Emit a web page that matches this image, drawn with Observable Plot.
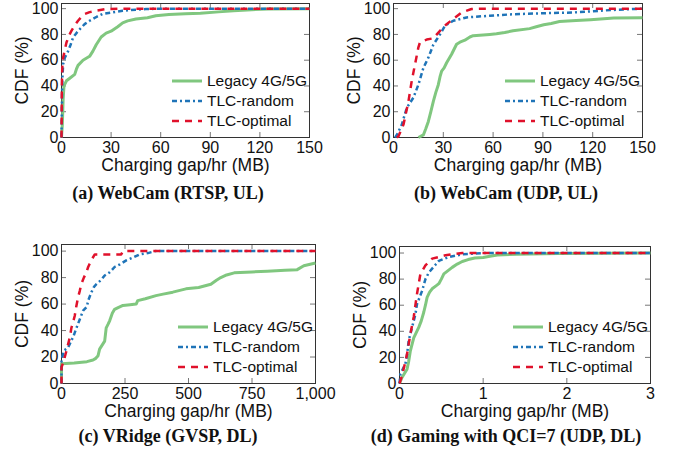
<!DOCTYPE html>
<html><head><meta charset="utf-8">
<script src="https://cdn.jsdelivr.net/npm/d3@7"></script>
<script src="https://cdn.jsdelivr.net/npm/@observablehq/plot@0.6"></script>
<style>
body{margin:0;background:#fff;}
#root{position:relative;width:676px;height:456px;overflow:hidden;font-family:"Liberation Sans",Arial,sans-serif;color:#111;}
.panel{position:absolute;}
.cap{position:absolute;font-family:"Liberation Serif","Times New Roman",serif;font-weight:bold;font-size:18px;line-height:20px;white-space:nowrap;transform:translateX(-50%);color:#111;}
.legtxt{position:absolute;font-size:15.5px;line-height:18px;white-space:nowrap;color:#111;}
.legline{position:absolute;}
</style></head>
<body><div id="root"></div>
<script>
// ---------- data ----------
const seriesNames = ["Legacy 4G/5G", "TLC-random", "TLC-optimal"];
const seriesColors = ["#80c77f", "#1f74b8", "#e0112b"];
const captions = ["(a) WebCam (RTSP, UL)", "(b) WebCam (UDP, UL)", "(c) VRidge (GVSP, DL)", "(d) Gaming with QCI=7 (UDP, DL)"];
const xLabel = "Charging gap/hr (MB)";
const yLabel = "CDF (%)";
const yTicks = [0, 20, 40, 60, 80, 100];
const xTicksA = [0, 30, 60, 90, 120, 150];
const xTicksB = [0, 30, 60, 90, 120, 150];
const xTicksC = [0, 250, 500, 750, 1000];
const xTicksD = [0, 1, 2, 3];

// (a) WebCam RTSP UL
const aLegacy = [[0,0],[0.5,10],[1,30],[1.5,40],[3,44],[5,46],[8,49],[9,53],[10,56],[13,60],[17,63],[19,67],[21,72],[24,78],[27,81],[30,82.5],[34,86],[37,89],[40,90.5],[45,92],[52,93],[57,94.5],[65,95.5],[75,96],[84,96.5],[95,97.5],[104,98.4],[115,99.2],[125,99.7],[150,100]];
const aRandom = [[0,0],[0.3,30],[0.5,45],[1,57],[2,62],[4,67],[5.5,72],[7,77.6],[9,81],[11,84],[14,88],[17,90.6],[21,93.5],[25,96],[30,97],[37,98.4],[45,99.2],[51,99.7],[60,100],[150,100]];
const aOptimal = [[0,0],[0.2,40],[0.5,55],[1,62],[2,68],[3,73.7],[4.5,79],[6,82.8],[8,87],[10,90.6],[12,93.5],[14,95.8],[17,97.3],[21,98.4],[27,99.7],[35,100],[150,100]];

// (b) WebCam UDP UL
const bLegacy = [[15,0],[18,2],[19.5,7],[21,12.5],[22.5,20],[24,28],[25.5,35],[27,41],[28,47],[29,51.5],[30.5,54],[32,58],[35,64.6],[38,72.4],[40,74],[43,75.5],[46,78],[48,79],[58,80],[62,80.5],[67,81.5],[72,82.8],[82,84.5],[86,86],[90.5,87.5],[95,88.5],[100,90],[110,90.8],[118.7,91.4],[132.7,92.7],[150,93]];
const bRandom = [[1,0],[2,2],[5,10],[8,23],[10,27],[12,31],[15,41],[18,54],[21,62],[24,72],[28,80],[31,86.7],[36,90.6],[44,93.2],[58,94.5],[70,95.5],[80,96],[95,96.6],[108,97],[120,98],[132,99],[150,100]];
const bOptimal = [[2,0],[3,1],[6,10],[9,28],[11,44],[13,57],[15,70],[16,74],[20,76],[24,77],[28,82.8],[32,88],[36,92],[41,97],[47,99.7],[55,100],[150,100]];

// (c) VRidge GVSP DL
const cLegacy = [[0,0],[0,15],[50,15.5],[100,16.5],[124,17.7],[135,19],[144,21],[150,26],[160,29],[170,32],[176,42],[184,45],[190,47.5],[200,53],[209,56],[225,57.5],[242,59],[270,59.5],[294,60],[300,62.6],[330,64],[372,66.4],[400,67.5],[438,69],[490,71.5],[540,72.5],[588,75],[610,78],[627,80],[650,82],[680,83.6],[750,84.3],[810,84.8],[880,85.5],[928,86],[954,89],[1000,91]];
const cRandom = [[0,0],[0,18],[10,25],[26,27],[40,33],[46,35],[55,40],[65,45],[75,50],[85,55],[100,58],[105,62.6],[118,69],[128,73],[137,75],[155,78],[170,81.6],[190,84],[209,88],[230,90],[255,93],[280,95],[307,97.5],[340,98.5],[370,100],[1000,100]];
const cOptimal = [[0,0],[0,12],[10,18],[20,25],[33,35],[39,42],[45,46],[52,51],[58,58],[65,65],[72,70],[78,75],[88,80],[98,84],[105,88],[111,90.5],[120,94],[131,97.5],[235,97.5],[242,100],[1000,100]];

// (d) Gaming QCI=7 UDP DL
const dLegacy = [[0,0],[0.03,4.6],[0.09,11],[0.11,17],[0.13,25],[0.17,35],[0.2,39],[0.23,43],[0.26,48],[0.29,54.6],[0.31,60],[0.33,66],[0.36,70],[0.39,72.6],[0.44,75],[0.47,76.5],[0.5,80],[0.53,84],[0.58,86.5],[0.63,89],[0.69,91.5],[0.75,93.5],[0.82,95],[0.9,96.2],[1.0,96.5],[1.08,97.5],[1.17,98.5],[1.4,99],[1.9,99.6],[3,100]];
const dRandom = [[0,0],[0.01,7],[0.07,15],[0.09,22],[0.11,33],[0.15,43],[0.19,53],[0.21,61],[0.24,66],[0.27,71],[0.31,80],[0.35,85],[0.39,88],[0.43,91],[0.47,94],[0.53,95.5],[0.59,97],[0.75,99],[1.0,100],[3,100]];
const dOptimal = [[0,0],[0.03,6],[0.06,14],[0.09,22.5],[0.13,38],[0.17,51],[0.21,69],[0.25,84],[0.31,90.5],[0.39,95.7],[0.55,98.3],[0.75,100],[3,100]];

// ---------- drawing ----------
const dashes = [null, "5,3,2,3", "7,6"];
const widths = [3, 2.5, 2.5];
const root = document.getElementById("root");

const panels = [
  {series:[aLegacy,aRandom,aOptimal], xDomain:[0,150], xTicks:xTicksA, yMax:104, left:0, top:0, width:338, height:180, ml:61, mr:29, mt:3, mb:43, fmt:d3.format("d"), cap:[168,183]},
  {series:[bLegacy,bRandom,bOptimal], xDomain:[0,150], xTicks:xTicksB, yMax:104, left:338, top:0, width:338, height:180, ml:55, mr:34, mt:3, mb:43, fmt:d3.format("d"), cap:[506,183]},
  {series:[cLegacy,cRandom,cOptimal], xDomain:[0,1000], xTicks:xTicksC, yMax:105, left:0, top:230, width:338, height:195, ml:61, mr:23, mt:14, mb:42, fmt:d3.format(","), cap:[168,426]},
  {series:[dLegacy,dRandom,dOptimal], xDomain:[0,3], xTicks:xTicksD, yMax:105, left:338, top:230, width:338, height:195, ml:61, mr:26, mt:16, mb:42, fmt:d3.format("d"), cap:[506,426]}
];

panels.forEach((p, pi) => {
  const fw = p.width - p.ml - p.mr;
  const fh = p.height - p.mt - p.mb;
  const tx = 5 * (p.xDomain[1] - p.xDomain[0]) / fw;
  const ty = 5 * p.yMax / fh;
  const x0 = p.xDomain[0], x1 = p.xDomain[1];
  const lineMarks = p.series.map((s, i) => Plot.line(s, {
    x: d => d[0], y: d => d[1], stroke: seriesColors[i], strokeWidth: widths[i],
    strokeDasharray: dashes[i] || undefined, strokeLinejoin: "round", strokeLinecap: "butt"
  }));
  const chart = Plot.plot({
    width: p.width, height: p.height,
    marginLeft: p.ml, marginRight: p.mr, marginTop: p.mt, marginBottom: p.mb,
    x: {domain: p.xDomain},
    y: {domain: [0, p.yMax]},
    style: {fontFamily: '"Liberation Sans", Arial, sans-serif', color: "#111", background: "transparent", overflow: "visible"},
    marks: [
      Plot.ruleX(p.xTicks, {x: d => d, y1: 0, y2: ty, stroke: "#777"}),
      Plot.ruleX(p.xTicks, {x: d => d, y1: p.yMax - ty, y2: p.yMax, stroke: "#777"}),
      Plot.ruleY(yTicks, {y: d => d, x1: x0, x2: x0 + tx, stroke: "#777"}),
      Plot.ruleY(yTicks, {y: d => d, x1: x1 - tx, x2: x1, stroke: "#777"}),
      Plot.frame({stroke: "#333", strokeWidth: 1}),
      Plot.axisX({ticks: p.xTicks, tickSize: 0, tickPadding: 4, fontSize: 16, tickFormat: p.fmt, label: null}),
      Plot.axisY({ticks: yTicks, tickSize: 0, tickPadding: 3, fontSize: 16, label: null}),
      Plot.text([xLabel], {text: d => d, frameAnchor: "bottom", lineAnchor: "middle", textAnchor: "middle", dy: 28, fontSize: 17.5}),
      Plot.text([yLabel], {text: d => d, frameAnchor: "left", lineAnchor: "middle", textAnchor: "middle", dx: -39, rotate: -90, fontSize: 17.5}),
      ...lineMarks
    ]
  });
  chart.classList.add("panel");
  chart.style.left = p.left + "px";
  chart.style.top = p.top + "px";
  root.appendChild(chart);

  // legend
  const R = p.left + p.width - p.mr;
  const B = p.top + p.height - p.mb;
  seriesNames.forEach((name, i) => {
    const cy = B - 56 + 20 * i;
    const svg = document.createElementNS("http://www.w3.org/2000/svg", "svg");
    svg.setAttribute("width", 30); svg.setAttribute("height", 8);
    svg.setAttribute("class", "legline");
    svg.style.left = (R - 137) + "px"; svg.style.top = (cy - 4) + "px";
    const ln = document.createElementNS("http://www.w3.org/2000/svg", "line");
    ln.setAttribute("x1", 0); ln.setAttribute("x2", 30); ln.setAttribute("y1", 4); ln.setAttribute("y2", 4);
    ln.setAttribute("stroke", seriesColors[i]); ln.setAttribute("stroke-width", widths[i]);
    if (dashes[i]) ln.setAttribute("stroke-dasharray", dashes[i]);
    svg.appendChild(ln);
    root.appendChild(svg);
    const t = document.createElement("div");
    t.className = "legtxt";
    t.textContent = name;
    t.style.left = (R - 102) + "px"; t.style.top = (cy - 9) + "px";
    root.appendChild(t);
  });

  const c = document.createElement("div");
  c.className = "cap";
  c.textContent = captions[pi];
  c.style.left = p.cap[0] + "px"; c.style.top = p.cap[1] + "px";
  root.appendChild(c);
});
</script>
</body></html>
